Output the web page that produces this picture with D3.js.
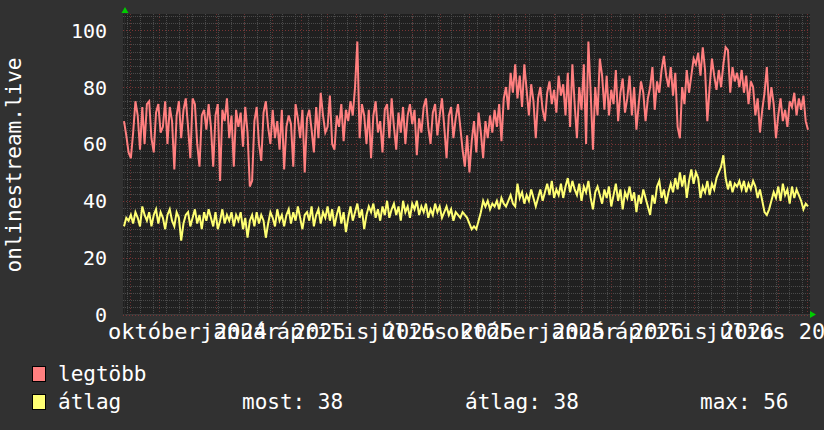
<!DOCTYPE html>
<html>
<head>
<meta charset="utf-8">
<script src="https://cdn.jsdelivr.net/npm/d3@7"></script>
<style>
  html, body { margin: 0; padding: 0; background: #313131; }
  svg { display: block; }
  text { font-family: "DejaVu Sans Mono", monospace; fill: #ffffff; }
</style>
</head>
<body>
<svg id="chart" width="824" height="430"></svg>
<script>
// ---- data ----
const yTicks = [0, 20, 40, 60, 80, 100];
const monthNames = ["január", "február", "március", "április", "május", "június",
  "július", "augusztus", "szeptember", "október", "november", "december"];
const startDate = new Date(2024, 6, 25);
const endDate = new Date(2026, 7, 2);

const legtobb = [
  68, 63, 57, 55, 64, 75, 70, 58, 73, 60,
  74, 75, 62, 57, 71, 74, 64, 66, 75, 60,
  73, 68, 51, 70, 75, 62, 72, 76, 66, 55,
  76, 74, 60, 52, 70, 72, 65, 74, 66, 52,
  70, 74, 47, 72, 68, 76, 62, 70, 52, 72,
  66, 71, 59, 73, 64, 45, 47, 68, 73, 60,
  54, 71, 75, 66, 60, 72, 62, 68, 58, 72,
  51, 66, 70, 67, 52, 74, 69, 62, 72, 50,
  69, 72, 65, 57, 73, 62, 78, 70, 64, 66,
  77, 60, 58, 70, 66, 74, 61, 72, 68, 75,
  70, 80, 96, 62, 74, 70, 60, 72, 55, 70,
  75, 64, 68, 57, 72, 74, 62, 76, 66, 58,
  71, 64, 73, 60, 70, 74, 67, 72, 56, 69,
  64, 73, 76, 66, 60, 71, 74, 63, 70, 76,
  66, 55, 70, 73, 62, 69, 74, 66, 58, 52,
  63, 50, 61, 68, 57, 71, 64, 55, 68, 62,
  70, 64, 72, 66, 74, 61, 76, 80, 72, 85,
  78, 88, 76, 84, 73, 88, 79, 70, 81, 75,
  62, 76, 80, 72, 68, 78, 82, 74, 79, 71,
  84, 77, 81, 70, 85, 66, 88, 74, 62, 80,
  72, 88, 60, 96, 78, 58, 80, 70, 90, 84,
  72, 84, 70, 79, 74, 86, 68, 78, 83, 71,
  76, 84, 70, 80, 65, 74, 82, 78, 68, 76,
  80, 87, 72, 82, 78, 86, 91, 84, 80, 87,
  77, 85, 66, 62, 80, 74, 86, 78, 84, 90,
  88, 92, 84, 94, 86, 68, 80, 90, 84, 79,
  86, 80, 88, 94, 93, 78, 87, 82, 85, 80,
  86, 78, 84, 74, 82, 80, 70, 76, 64, 72,
  78, 87, 72, 80, 74, 62, 70, 76, 68, 72,
  66, 75, 73, 78, 70, 76, 72, 77, 68, 65
];

const atlag = [
  31, 34, 33, 35, 32, 36, 34, 31, 38, 35,
  33, 36, 31, 35, 37, 32, 36, 34, 30, 35,
  37, 33, 31, 36, 34, 26, 32, 35, 36, 31,
  34, 37, 32, 35, 30, 36, 33, 37, 34, 31,
  36, 30, 33, 37, 32, 35, 33, 36, 31, 35,
  33, 36, 30, 34, 27, 33, 35, 31, 36, 32,
  35, 33, 27, 32, 36, 34, 31, 37, 33, 35,
  31, 35, 37, 32, 36, 33, 38, 34, 30, 35,
  36, 33, 38, 31, 35, 37, 32, 36, 34, 38,
  33, 37, 31, 35, 38, 32, 36, 29, 34, 38,
  33, 36, 39, 34, 37, 30, 35, 38, 36, 39,
  34, 37, 33, 38, 35, 40, 34, 37, 39, 35,
  38, 33, 40, 36, 38, 34, 39, 37, 40, 35,
  38, 36, 39, 34, 37, 35, 39, 36, 38, 34,
  36, 38, 35, 37, 33, 36, 35, 34, 36, 35,
  34, 32, 30, 31, 30, 33, 36, 40, 38, 40,
  37, 39, 38, 40, 37, 41, 39, 38, 40, 42,
  39, 38, 46, 41, 43, 39, 42, 40, 44, 41,
  38, 41, 44, 40, 43, 46, 42, 47, 41, 44,
  42, 46, 41, 45, 48, 43, 47, 44, 42, 46,
  40, 45, 43, 47, 41, 37, 43, 45, 42, 39,
  44, 41, 45, 38, 42, 46, 40, 44, 37, 43,
  41, 45, 40, 43, 36, 42, 39, 44, 41, 38,
  35, 42, 39, 45, 47, 41, 44, 39, 43, 46,
  43, 48, 44, 50, 45, 49, 41, 47, 51, 46,
  50, 48, 41, 45, 43, 47, 42, 46, 44, 48,
  50, 52, 56, 48, 44, 47, 43, 46, 45, 47,
  44, 47, 43, 46, 44, 47, 45, 41, 44, 40,
  36, 35, 37, 40, 43, 41, 45, 40, 46, 42,
  44, 39, 45, 41, 44, 42, 40, 37, 39, 38
];

const seriesNames = ["legtöbb", "átlag"];
const seriesColors = ["#ff7f7f", "#ffff73"];
const yTitle = "onlinestream.live";

// ---- layout ----
const svg = d3.select("#chart");
const plot = { left: 123, right: 810, top: 14, bottom: 315 };

const x = d3.scaleTime().domain([startDate, endDate]).range([124, 808]);
const y = d3.scaleLinear().domain([0, 100]).range([314.5, 30.2]);

const n = legtobb.length;
const spanMs = endDate - startDate;
const dates = d3.range(n).map(i => new Date(+startDate + spanMs * i / (n - 1)));

// plot background
svg.append("rect")
  .attr("x", plot.left).attr("y", plot.top)
  .attr("width", plot.right - plot.left).attr("height", plot.bottom - plot.top)
  .attr("fill", "#202020");

const grid = svg.append("g");
d3.range(0, 105.01, 2.5).forEach(v => {
  if (v % 20 === 0) return;
  grid.append("line")
    .attr("x1", plot.left).attr("x2", plot.right)
    .attr("y1", Math.round(y(v)) + 0.5).attr("y2", Math.round(y(v)) + 0.5)
    .attr("stroke", "#4a4a4a").attr("stroke-dasharray", "1,1");
});
d3.timeWeek.every(2).range(startDate, endDate).forEach(d => {
  grid.append("line")
    .attr("x1", Math.round(x(d)) + 0.5).attr("x2", Math.round(x(d)) + 0.5)
    .attr("y1", plot.top).attr("y2", plot.bottom)
    .attr("stroke", "#4a4a4a").attr("stroke-dasharray", "1,1");
});
d3.timeMonth.every(1).range(startDate, endDate).forEach(d => {
  grid.append("line")
    .attr("x1", Math.round(x(d)) + 0.5).attr("x2", Math.round(x(d)) + 0.5)
    .attr("y1", plot.top).attr("y2", plot.bottom)
    .attr("stroke", "#6a3030").attr("stroke-dasharray", "1,2");
});
yTicks.forEach(v => {
  grid.append("line")
    .attr("x1", plot.left).attr("x2", plot.right)
    .attr("y1", Math.round(y(v)) + 0.5).attr("y2", Math.round(y(v)) + 0.5)
    .attr("stroke", "#7a3434").attr("stroke-dasharray", "1,2");
});

// axis lines
svg.append("line").attr("x1", plot.left).attr("x2", 811)
  .attr("y1", 314.5).attr("y2", 314.5).attr("stroke", "#3c3c3c");
svg.append("line").attr("x1", 124.5).attr("x2", 124.5)
  .attr("y1", 12).attr("y2", 316).attr("stroke", "#2a2a2a");

// arrows
svg.append("path").attr("d", "M121.5,13 L128.5,13 L125,7 Z").attr("fill", "#00cc00");
svg.append("path").attr("d", "M810,311 L810,318 L816,314.5 Z").attr("fill", "#00cc00");

// lines
const line = d3.line().x((d, i) => x(dates[i])).y(d => y(d));
[[atlag, seriesColors[1]], [legtobb, seriesColors[0]]].forEach(([arr, color]) => {
  svg.append("path").datum(arr)
    .attr("d", line)
    .attr("fill", "none")
    .attr("stroke", color)
    .attr("stroke-width", 2)
    .attr("stroke-linejoin", "miter");
});

// y axis
const yAxis = d3.axisLeft(y).tickValues(yTicks).tickSize(0).tickPadding(17);
const gy = svg.append("g").attr("transform", "translate(124,0)").call(yAxis);
gy.select(".domain").remove();
gy.selectAll("text").style("font-size", "20px").attr("fill", "#fff")
  .attr("font-family", "DejaVu Sans Mono").attr("dy", "0.35em");

// x axis (quarterly labels)
const quarterTicks = d3.timeMonth.every(3).range(startDate, endDate);
const xAxis = d3.axisBottom(x).tickValues(quarterTicks).tickSize(0).tickPadding(0)
  .tickFormat(d => monthNames[d.getMonth()] + " " + d.getFullYear());
const gx = svg.append("g").attr("transform", "translate(0,322)").call(xAxis);
gx.select(".domain").remove();
gx.selectAll("text").style("font-size", "22px").attr("fill", "#fff")
  .attr("font-family", "DejaVu Sans Mono").attr("dy", "0.75em");

// y title
svg.append("text")
  .attr("transform", "translate(21,165) rotate(-90)")
  .attr("text-anchor", "middle")
  .style("font-size", "21px")
  .text(yTitle);

// legend
const legend = svg.append("g").style("font-size", "21px");
seriesNames.forEach((name, i) => {
  const yy = 366 + i * 28;
  legend.append("rect").attr("x", 32.5).attr("y", yy + 0.5).attr("width", 13).attr("height", 15)
    .attr("fill", seriesColors[i]).attr("stroke", "#000");
  legend.append("text").attr("x", 58).attr("y", yy + 15).text(name);
});
const last = atlag[atlag.length - 1];
const avg = Math.round(d3.mean(atlag));
const mx = d3.max(atlag);
legend.append("text").attr("x", 242).attr("y", 409).text("most: " + last);
legend.append("text").attr("x", 465).attr("y", 409).text("átlag: " + avg);
legend.append("text").attr("x", 700).attr("y", 409).text("max: " + mx);
</script>
</body>
</html>
